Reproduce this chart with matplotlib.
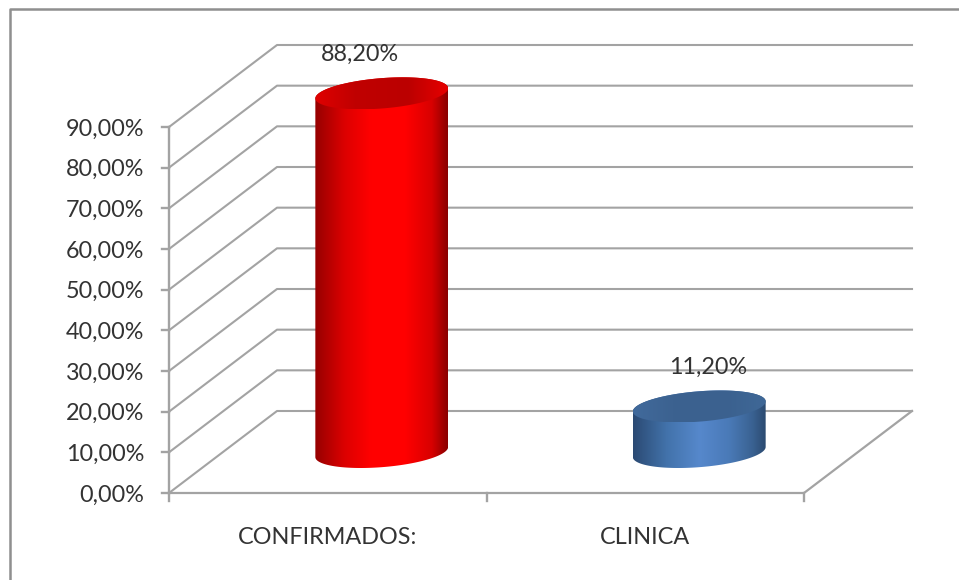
import numpy as np
import matplotlib
matplotlib.use('Agg')
import matplotlib.pyplot as plt
from matplotlib.colors import LinearSegmentedColormap
from matplotlib.patches import Polygon

plt.rcParams['font.family'] = ['Lato', 'DejaVu Sans']

# chart values
categories = ['CONFIRMADOS:', 'CLINICA']
values = [88.2, 11.2]
value_labels = ['88,20%', '11,20%']
y_ticks = [0, 10, 20, 30, 40, 50, 60, 70, 80, 90]
y_tick_labels = ['0,00%', '10,00%', '20,00%', '30,00%', '40,00%',
                 '50,00%', '60,00%', '70,00%', '80,00%', '90,00%']

# gradient stops for the side and top of each cylinder
side_colors = [
    [(0, '#960000'), (0.22, '#dc0000'), (0.42, '#ff0000'), (0.68, '#ff0000'), (0.88, '#d80000'), (1, '#8a0000')],
    [(0, '#2b4a73'), (0.25, '#4272aa'), (0.5, '#5688cc'), (0.72, '#4a7ab8'), (0.9, '#3a6292'), (1, '#2b4a70')],
]
top_colors = [
    [(0, '#e00000'), (0.3, '#c00000'), (0.7, '#bb0000'), (1, '#e60000')],
    [(0, '#416a9c'), (0.3, '#3c6290'), (0.7, '#3b618f'), (1, '#3f6897')],
]

W, H = 959, 580
GRID = '#a3a3a3'
TEXT = '#333333'
FONT = 16.8

fig = plt.figure(figsize=(W / 100, H / 100), dpi=100)
ax = fig.add_axes([0, 0, 1, 1])

# x is in categories, y in percent; the limits put the plot box where it sits in the picture
px_x = (804 - 169) / 2
px_y = (493 - 127) / 90
xlim = (-169 / px_x, (W - 169) / px_x)
ylim = (-(H - 493) / px_y, 493 / px_y)
ax.axis('off')

# 3d depth of the floor, in data units
dep_x = 108 / px_x
dep_y = 82 / px_y

# outer frame, only left and top are inside the picture
fx0 = (9.5 - 169) / px_x
fy1 = (493 - 8.5) / px_y
ax.plot([fx0, fx0, xlim[1]], [ylim[0], fy1, fy1], color='#8f8f8f', lw=1.8, zorder=1)

# walls: gridlines run along the side wall and then the back wall
for t, lab in zip(y_ticks, y_tick_labels):
    ax.plot([0, dep_x, 2 + dep_x], [t, t + dep_y, t + dep_y], color=GRID, lw=1.5, zorder=2)
    ax.plot([-7 / px_x, 0], [t, t], color=GRID, lw=1.7, zorder=2)
    ax.text(-25 / px_x, t - 2 / px_y, lab, ha='right', va='center', fontsize=FONT, color=TEXT, zorder=6)

# axis lines and floor
ax.plot([0, 0], [y_ticks[0], y_ticks[-1]], color=GRID, lw=1.7, zorder=2)
ax.plot([0, 2, 2 + dep_x], [0, 0, dep_y], color=GRID, lw=1.6, zorder=2)
for i in range(3):
    ax.plot([i, i], [0, -8 / px_y], color=GRID, lw=1.7, zorder=2)

# cylinders
t = np.linspace(0, 2 * np.pi, 181)
ux = 63 / px_x
vx = 21 / px_x
vy = 16 / px_y
label_shift = [-22, 9]
for i in range(len(values)):
    cx = i + 0.5 + dep_x / 2
    base = dep_y / 2
    top = base + values[i]
    ex = ux * np.cos(t) + vx * np.sin(t)
    ey = vy * np.sin(t)
    half = np.sqrt(ux ** 2 + vx ** 2)

    # side outline = far half of the top ellipse + near half of the base ellipse
    k = np.arctan2(vx, ux)
    arc = np.linspace(k, k + np.pi, 91)
    low_x = ux * np.cos(arc) + vx * np.sin(arc)
    low_y = vy * np.sin(arc)
    side = np.concatenate([
        np.column_stack([cx + low_x, top + low_y]),
        np.column_stack([cx - low_x, base - low_y]),
    ])
    cmap = LinearSegmentedColormap.from_list('side', side_colors[i])
    im = ax.imshow(np.linspace(0, 1, 256)[None, :], cmap=cmap, aspect='auto', zorder=3,
                   extent=[cx - half, cx + half, base - 2 * vy, top + 2 * vy], interpolation='bilinear')
    im.set_clip_path(Polygon(side, closed=True, transform=ax.transData))

    cmap = LinearSegmentedColormap.from_list('top', top_colors[i])
    im = ax.imshow(np.linspace(0, 1, 256)[None, :], cmap=cmap, aspect='auto', zorder=4,
                   extent=[cx - half, cx + half, top - vy, top + vy], interpolation='bilinear')
    im.set_clip_path(Polygon(np.column_stack([cx + ex, top + ey]), closed=True, transform=ax.transData))

    # value label above the cylinder
    ax.text(cx + label_shift[i] / px_x, top + 39 / px_y, value_labels[i], ha='center', va='center',
            fontsize=FONT, color=TEXT, zorder=6)

    # category label under the axis
    ax.text(i + 0.5, -45 / px_y, categories[i], ha='center', va='center',
            fontsize=FONT, color=TEXT, zorder=6)

# imshow resets the limits
ax.set_xlim(xlim)
ax.set_ylim(ylim)

fig.savefig('out.png', dpi=100)
